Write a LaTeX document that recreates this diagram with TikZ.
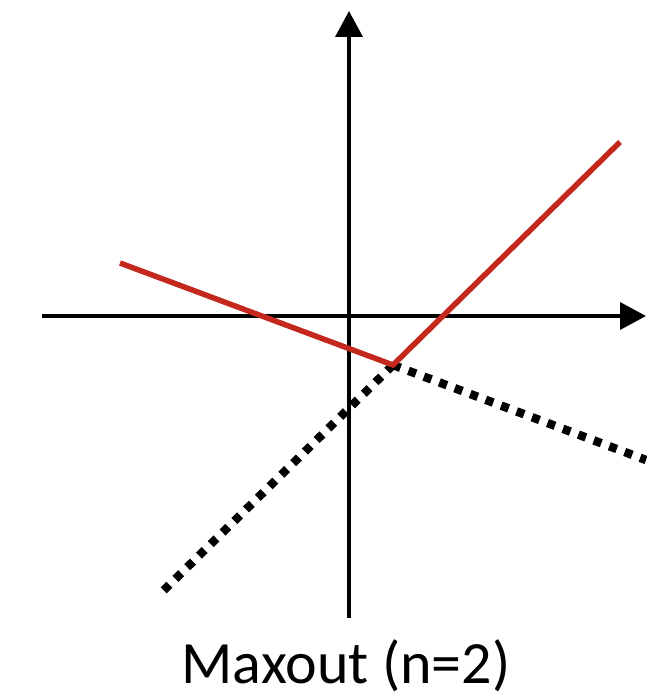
\documentclass[tikz,border=0pt]{standalone}
\usepackage{fontspec}
\setmainfont{Carlito}
\usetikzlibrary{arrows.meta}
\definecolor{maxred}{RGB}{196,40,28}
\tikzset{
  axis/.style={line width=3.6pt,-{Triangle[length=26pt,width=27pt]}},
  redline/.style={maxred,line width=5.5pt,line join=miter},
  dotline/.style={black,line width=8.5pt,dash pattern=on 8pt off 8.5pt},
}
\begin{document}
\begin{tikzpicture}[x=1pt,y=-1pt]
\useasboundingbox (0,0) rectangle (646,698);
\coordinate (xs) at (42,316);
\coordinate (xe) at (646,316);
\coordinate (ys) at (349,618);
\coordinate (ye) at (349,11);
\coordinate (l) at (120,263);
\coordinate (k) at (393,365);
\coordinate (r) at (620,142);
\coordinate (dr) at (646,460);
\coordinate (dl) at (162,592);
\draw[dotline] (k) -- (dr);
\draw[dotline] (k) -- (dl);
\draw[axis] (xs) -- (xe);
\draw[axis] (ys) -- (ye);
\draw[redline] (l) -- (k) -- (r);
\node[anchor=base,font=\fontsize{60}{72}\selectfont,inner sep=0pt] (lab) at (346,683) {Maxout (n=2)};
\end{tikzpicture}
\end{document}
